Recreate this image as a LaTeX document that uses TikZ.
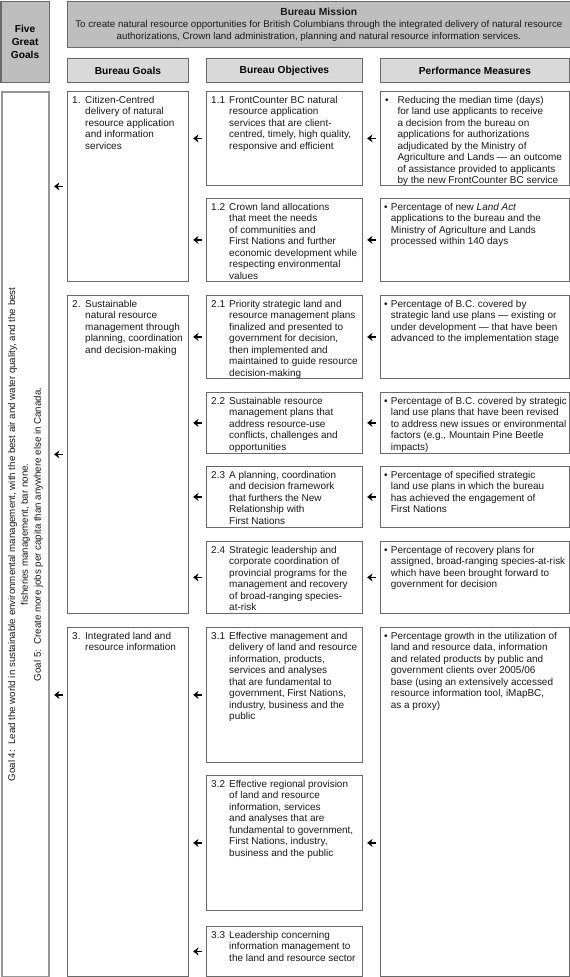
\documentclass[tikz,border=0pt]{standalone}
\usepackage{fontspec}
\setmainfont{Liberation Sans}
\usetikzlibrary{positioning,arrows.meta}
\definecolor{missionfill}{RGB}{190,190,190}
\definecolor{headfill}{RGB}{217,217,217}
\definecolor{edge}{RGB}{105,105,105}
\definecolor{goaledge}{RGB}{150,150,150}
\definecolor{ink}{RGB}{25,25,25}

% label in a fixed column, lines hanging beside it
\newcommand{\numitem}[3]{\begin{tabular}[t]{@{}p{#1}@{}l@{}}#2 & \begin{tabular}[t]{@{}l@{}}#3\end{tabular}\end{tabular}}

\begin{document}
\begin{tikzpicture}[
    x=0.03cm, y=-0.03cm,
    frame/.style={draw=edge, line width=0.7pt, anchor=north west, inner sep=0pt},
    head/.style={frame, fill=headfill, minimum height=0.72cm, font=\fontsize{8.7}{10}\selectfont\bfseries},
    txt/.style={anchor=north west, inner sep=0pt, text=ink, font=\fontsize{8.5}{9.8}\selectfont},
    arr/.style={-{Stealth[length=1.6mm,width=2.4mm]}, line width=1.2pt, shorten <=0.13cm, shorten >=0.13cm}
]
    \useasboundingbox (0,0) rectangle (570,977);

    % top row
    \node[frame, fill=missionfill, line width=1pt, minimum width=1.44cm, minimum height=2.445cm,
          align=center, font=\fontsize{8.7}{11.5}\selectfont\bfseries] (five) at (0.5,0.5) {Five\\Great\\Goals};
    \node[frame, fill=missionfill, line width=1pt, minimum width=15.075cm, minimum height=1.395cm] (mission) at (67,0.5) {};
    \node[align=center, inner sep=0pt, text=ink, font=\fontsize{8.3}{10.2}\selectfont] (missiont) at (mission.center)
        {{\fontsize{8.8}{10.2}\selectfont\bfseries Bureau Mission}\\
         To create natural resource opportunities for British Columbians through the integrated delivery of natural resource\\
         authorizations, Crown land administration, planning and natural resource information services.};

    % column heads
    \node[head, minimum width=3.63cm] (hgoals) at (67,58) {Bureau Goals};
    \node[head, minimum width=4.68cm] (hobj) at (206,58) {Bureau Objectives};
    \node[head, minimum width=5.67cm] (hpm) at (380,58) {Performance Measures};

    % five great goals column
    \node[frame, draw=goaledge, line width=1.5pt, minimum width=1.41cm, minimum height=26.55cm] (great) at (1,91) {};
    \node[rotate=90, align=center, inner sep=0pt, text=ink, font=\fontsize{8.3}{11}\selectfont] (greatt) at (great.center)
        {Goal 4:\ \ Lead the world in sustainable environmental management, with the best air and water quality, and the best\\
         fisheries management, bar none.\\
         Goal 5:\ \ Create more jobs per capita than anywhere else in Canada.};

    % bureau goals
    \node[frame, minimum width=3.63cm, minimum height=5.70cm] (g1) at (67,91) {};
    \node[frame, minimum width=3.63cm, minimum height=9.54cm] (g2) at (67,295) {};
    \node[frame, minimum width=3.63cm, minimum height=10.47cm] (g3) at (67,627) {};
    \node[txt] (g1t) at ([shift={(5,4)}]g1.north west) {\numitem{0.39cm}{1.}{Citizen-Centred\\delivery of natural\\resource application\\and information\\services}};
    \node[txt] (g2t) at ([shift={(5,4)}]g2.north west) {\numitem{0.39cm}{2.}{Sustainable\\natural resource\\management through\\planning, coordination\\and decision-making}};
    \node[txt] (g3t) at ([shift={(5,4)}]g3.north west) {\numitem{0.39cm}{3.}{Integrated land and\\resource information}};

    % bureau objectives
    \node[frame, minimum width=4.68cm, minimum height=2.82cm] (o11) at (206,91) {};
    \node[frame, minimum width=4.68cm, minimum height=2.49cm] (o12) at (206,198) {};
    \node[frame, minimum width=4.68cm, minimum height=2.49cm] (o21) at (206,295) {};
    \node[frame, minimum width=4.68cm, minimum height=1.83cm] (o22) at (206,392) {};
    \node[frame, minimum width=4.68cm, minimum height=1.83cm] (o23) at (206,466) {};
    \node[frame, minimum width=4.68cm, minimum height=2.16cm] (o24) at (206,541) {};
    \node[frame, minimum width=4.68cm, minimum height=4.05cm] (o31) at (206,627) {};
    \node[frame, minimum width=4.68cm, minimum height=4.05cm] (o32) at (206,775) {};
    \node[frame, minimum width=4.68cm, minimum height=1.50cm] (o33) at (206,926) {};
    \node[txt] (o11t) at ([shift={(5,4)}]o11.north west) {\numitem{0.54cm}{1.1}{FrontCounter BC natural\\resource application\\services that are client-\\centred, timely, high quality,\\responsive and efficient}};
    \node[txt] (o12t) at ([shift={(5,4)}]o12.north west) {\numitem{0.54cm}{1.2}{Crown land allocations\\that meet the needs\\of communities and\\First Nations and further\\economic development while\\respecting environmental\\values}};
    \node[txt] (o21t) at ([shift={(5,4)}]o21.north west) {\numitem{0.54cm}{2.1}{Priority strategic land and\\resource management plans\\finalized and presented to\\government for decision,\\then implemented and\\maintained to guide resource\\decision-making}};
    \node[txt] (o22t) at ([shift={(5,4)}]o22.north west) {\numitem{0.54cm}{2.2}{Sustainable resource\\management plans that\\address resource-use\\conflicts, challenges and\\opportunities}};
    \node[txt] (o23t) at ([shift={(5,4)}]o23.north west) {\numitem{0.54cm}{2.3}{A planning, coordination\\and decision framework\\that furthers the New\\Relationship with\\First Nations}};
    \node[txt] (o24t) at ([shift={(5,4)}]o24.north west) {\numitem{0.54cm}{2.4}{Strategic leadership and\\corporate coordination of\\provincial programs for the\\management and recovery\\of broad-ranging species-\\at-risk}};
    \node[txt] (o31t) at ([shift={(5,4)}]o31.north west) {\numitem{0.54cm}{3.1}{Effective management and\\delivery of land and resource\\information, products,\\services and analyses\\that are fundamental to\\government, First Nations,\\industry, business and the\\public}};
    \node[txt] (o32t) at ([shift={(5,4)}]o32.north west) {\numitem{0.54cm}{3.2}{Effective regional provision\\of land and resource\\information, services\\and analyses that are\\fundamental to government,\\First Nations, industry,\\business and the public}};
    \node[txt] (o33t) at ([shift={(5,4)}]o33.north west) {\numitem{0.54cm}{3.3}{Leadership concerning\\information management to\\the land and resource sector}};

    % performance measures
    \node[frame, minimum width=5.67cm, minimum height=2.82cm] (p11) at (380,91) {};
    \node[frame, minimum width=5.67cm, minimum height=2.49cm] (p12) at (380,198) {};
    \node[frame, minimum width=5.67cm, minimum height=2.49cm] (p21) at (380,295) {};
    \node[frame, minimum width=5.67cm, minimum height=1.83cm] (p22) at (380,392) {};
    \node[frame, minimum width=5.67cm, minimum height=1.83cm] (p23) at (380,466) {};
    \node[frame, minimum width=5.67cm, minimum height=2.16cm] (p24) at (380,541) {};
    \node[frame, minimum width=5.67cm, minimum height=10.47cm] (p3) at (380,627) {};
    \node[txt] (p11t) at ([shift={(5,4)}]p11.north west) {\numitem{0.37cm}{•}{Reducing the median time (days)\\for land use applicants to receive\\a decision from the bureau on\\applications for authorizations\\adjudicated by the Ministry of\\Agriculture and Lands — an outcome\\of assistance provided to applicants\\by the new FrontCounter BC service}};
    \node[txt] (p12t) at ([shift={(4,4)}]p12.north west) {\numitem{0.2cm}{•}{Percentage of new \textit{Land Act}\\applications to the bureau and the\\Ministry of Agriculture and Lands\\processed within 140 days}};
    \node[txt] (p21t) at ([shift={(4,4)}]p21.north west) {\numitem{0.2cm}{•}{Percentage of B.C. covered by\\strategic land use plans — existing or\\under development — that have been\\advanced to the implementation stage}};
    \node[txt] (p22t) at ([shift={(4,4)}]p22.north west) {\numitem{0.2cm}{•}{Percentage of B.C. covered by strategic\\land use plans that have been revised\\to address new issues or environmental\\factors (e.g., Mountain Pine Beetle\\impacts)}};
    \node[txt] (p23t) at ([shift={(4,4)}]p23.north west) {\numitem{0.2cm}{•}{Percentage of specified strategic\\land use plans in which the bureau\\has achieved the engagement of\\First Nations}};
    \node[txt] (p24t) at ([shift={(4,4)}]p24.north west) {\numitem{0.2cm}{•}{Percentage of recovery plans for\\assigned, broad-ranging species-at-risk\\which have been brought forward to\\government for decision}};
    \node[txt] (p3t) at ([shift={(4,4)}]p3.north west) {\numitem{0.2cm}{•}{Percentage growth in the utilization of\\land and resource data, information\\and related products by public and\\government clients over 2005/06\\base (using an extensively accessed\\resource information tool, iMapBC,\\as a proxy)}};

    % goals feed the five great goals
    \draw[arr] (g1.west) -- (great.east |- g1.west);
    \draw[arr] (g2.west) -- (great.east |- g2.west);
    \draw[arr] (g3.west |- o31.west) -- (great.east |- o31.west);
    % objectives feed the goals
    \foreach \o/\g in {o11/g1, o12/g1, o21/g2, o22/g2, o23/g2, o24/g2, o31/g3, o32/g3, o33/g3}
        \draw[arr] (\o.west) -- (\g.east |- \o.west);
    % measures feed the objectives
    \foreach \p/\o in {p11/o11, p12/o12, p21/o21, p22/o22, p23/o23, p24/o24}
        \draw[arr] (\p.west) -- (\o.east |- \p.west);
    \draw[arr] (p3.west |- o32.east) -- (o32.east);
\end{tikzpicture}
\end{document}
